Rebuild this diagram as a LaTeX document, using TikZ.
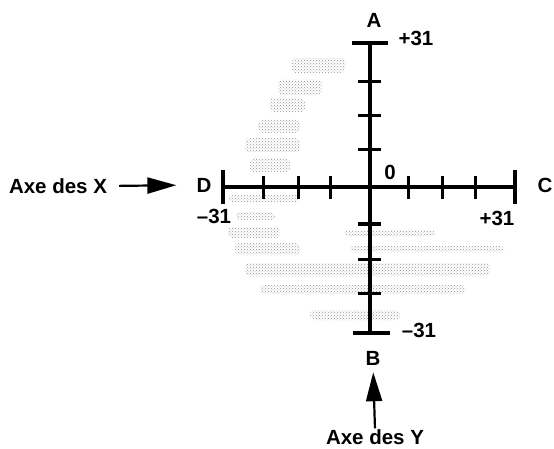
\documentclass[tikz,border=0pt]{standalone}
\usepackage{fontspec}
\setmainfont{Liberation Sans}
\usetikzlibrary{arrows.meta,patterns}
\begin{document}
\begin{tikzpicture}[x=1pt,y=-1pt,
  font=\fontsize{20.5}{20.5}\selectfont\bfseries,
  axis/.style={line width=3.3pt},
  tickmark/.style={line width=3pt},
  lab/.style={inner sep=0pt},
  stip/.style={pattern=crosshatch dots, pattern color=gray!85},
  bigarrow/.style={line width=2.2pt,-{Triangle[length=29pt,width=16pt]}}]
\useasboundingbox (0,0) rectangle (554,449);
% stipple
\foreach \xa/\ya/\xb/\yb in {
  292/58/345/73, 278/80/322/95, 270/98/305/112, 258/120/300/133,
  245/138/300/152, 250/158/290/172, 228/195/300/202,
  236/212/275/220, 228/227/280/238, 345/230/435/236,
  235/243/300/255, 350/246/505/252, 245/263/490/276, 260/285/465/294,
  310/310/400/320}
  \fill[stip, rounded corners=4pt] (\xa,\ya) rectangle (\xb,\yb);
% axes
\coordinate (O) at (370,187);
\coordinate (Atop) at (370,43);
\coordinate (Bbot) at (370,333);
\coordinate (Dend) at (223,187);
\coordinate (Cend) at (515,187);
\draw[axis] (Dend) -- (Cend);
\draw[axis] (Atop) -- (Bbot);
\draw[axis] (Dend) ++(0,-17) -- ++(0,34);
\draw[axis] (Cend) ++(0,-17) -- ++(0,34);
\draw[axis] (Atop) ++(-18,0) -- ++(36,0);
\draw[axis] (Bbot) ++(-17,0) -- ++(37,0);
\foreach \tx in {263,298,330,408,442,475}
  \draw[tickmark] (\tx,176) -- (\tx,199);
\foreach \ty in {82,116,150,224,259,293}
  \draw[tickmark] (358,\ty) -- (381,\ty);
% labels
\node[lab] (A) at (374,20) {A};
\node[lab] (ap) at (416,38) {+31};
\node[lab] (B) at (373,358) {B};
\node[lab] (bm) at (419,330) {–31};
\node[lab] (D) at (204,185) {D};
\node[lab] (C) at (545,185) {C};
\node[lab] (dm) at (214,216) {–31};
\node[lab] (cp) at (497,218) {+31};
\node[lab] (zero) at (390,172) {0};
\node[lab] (axex) at (58,186) {Axe des X};
\node[lab] (axey) at (375,437) {Axe des Y};
\draw[bigarrow, shorten <=12pt, shorten >=20pt] (axex.east) -- (D.west);
\draw[bigarrow, shorten <=1pt, shorten >=7pt] (axey.north) -- (B.south);
\end{tikzpicture}
\end{document}
